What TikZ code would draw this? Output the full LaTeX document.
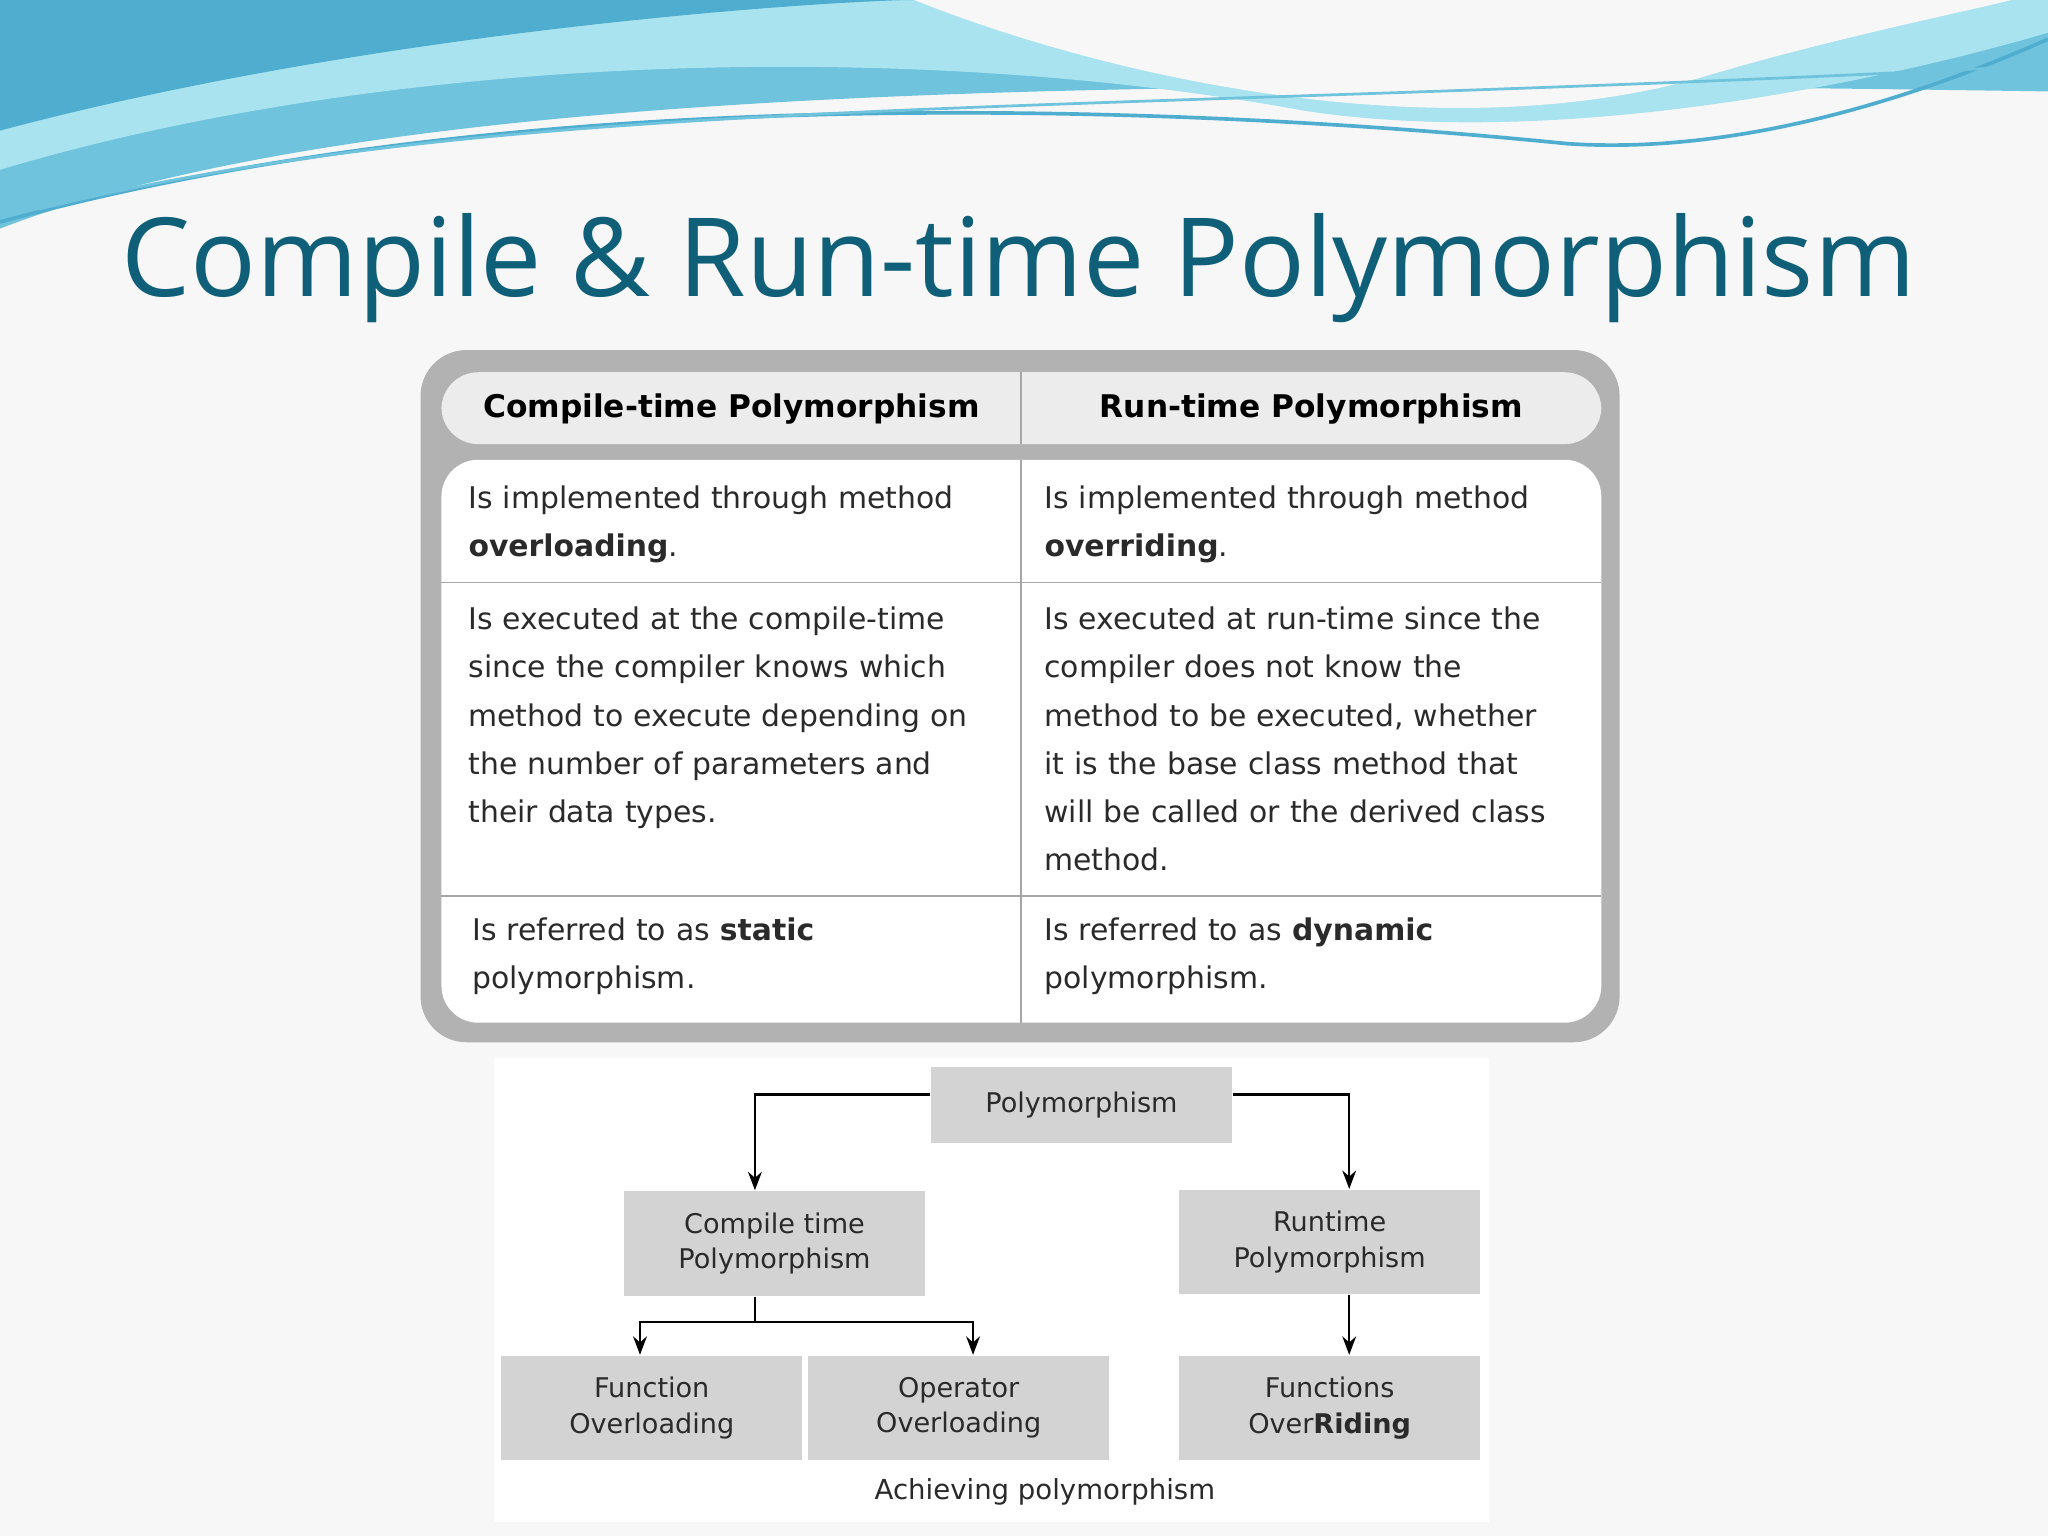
\documentclass[tikz,border=0pt]{standalone}
\usepackage{fontspec}
\setmainfont{DejaVu Sans}
\newfontfamily\titlefont{Open Sans}
\usetikzlibrary{arrows.meta}
\definecolor{titc}{HTML}{0E5F77}
\definecolor{boxg}{HTML}{D3D3D3}
\definecolor{txtg}{HTML}{2A2A2A}
\definecolor{wA}{HTML}{6FC3DC}
\definecolor{wB}{HTML}{A9E3EF}
\definecolor{wC}{HTML}{4FAED0}
\tikzset{
 cell/.style={anchor=north west,text width=4.2cm,align=left,inner sep=0pt,text=txtg,font=\fontsize{6.5pt}{10.5pt}\selectfont},
 hdr/.style={font=\bfseries\fontsize{6.8pt}{9pt}\selectfont},
 dbox/.style={fill=boxg,minimum width=2.3cm,minimum height=0.8cm,align=center,inner sep=1pt,text=txtg,font=\fontsize{5.9pt}{7.7pt}\selectfont},
 conn/.style={draw=black,line width=0.5pt,-{Stealth[length=4pt,width=3pt]}},
 plain/.style={draw=black,line width=0.5pt}
}
\begin{document}
\begin{tikzpicture}[x=0.01cm,y=-0.01cm]
\fill[white!94!gray] (0,0) rectangle (1568,1176);
\useasboundingbox (0,0) rectangle (1568,1176);
% waves
\fill[wA] (0,0) -- (0,175) .. controls (300,60) and (900,60) .. (1568,70) -- (1568,0) -- cycle;
\fill[wB] (0,0) -- (0,130) .. controls (300,40) and (700,30) .. (1000,85) .. controls (1200,115) and (1450,60) .. (1568,25) -- (1568,0) -- cycle;
\fill[wC] (0,0) -- (0,100) .. controls (300,20) and (650,0) .. (700,0) -- cycle;
\fill[white!94!gray] (700,0) .. controls (850,60) and (1100,115) .. (1300,60) .. controls (1400,30) and (1500,10) .. (1540,0) -- cycle;
\draw[wC,line width=0.8pt] (0,170) .. controls (400,60) and (900,80) .. (1200,110) .. controls (1350,120) and (1500,60) .. (1568,30);
\draw[wA,line width=0.6pt] (30,160) .. controls (400,70) and (800,90) .. (1568,50);
% title
\node[titc,font=\titlefont\fontsize{23.8pt}{28pt}\selectfont] (title) at (780,205) {Compile \& Run-time Polymorphism};
% table
\fill[gray!60,rounded corners=10] (322,268) rectangle (1240,798);
\fill[gray!15,rounded corners=8] (338,285) rectangle (1226,340);
\fill[white,rounded corners=8] (338,352) rectangle (1226,783);
\draw[gray!70] (782,285) -- (782,340);
\draw[gray!70] (782,352) -- (782,783);
\draw[gray!70] (338,446) -- (1226,446);
\draw[gray!70] (338,686) -- (1226,686);
\node[hdr] (h1) at (560,313) {Compile-time Polymorphism};
\node[hdr] (h2) at (1004,313) {Run-time Polymorphism};
\node[cell] (a1) at (358,371) {Is implemented through method\\\textbf{overloading}.};
\node[cell] (b1) at (799,371) {Is implemented through method\\\textbf{overriding}.};
\node[cell] (a2) at (358,464) {Is executed at the compile-time\\since the compiler knows which\\method to execute depending on\\the number of parameters and\\their data types.};
\node[cell] (b2) at (799,464) {Is executed at run-time since the\\compiler does not know the\\method to be executed, whether\\it is the base class method that\\will be called or the derived class\\method.};
\node[cell] (a3) at (361,702) {Is referred to as \textbf{static}\\polymorphism.};
\node[cell] (b3) at (799,702) {Is referred to as \textbf{dynamic}\\polymorphism.};
% diagram
\fill[white] (378,810) rectangle (1140,1165);
\node[dbox,minimum height=0.58cm] (p) at (828,846) {Polymorphism};
\node[dbox] (ct) at (593,952) {Compile time\\Polymorphism};
\node[dbox] (rt) at (1018,951) {Runtime\\Polymorphism};
\node[dbox] (fo) at (499,1078) {Function\\Overloading};
\node[dbox] (oo) at (734,1078) {Operator\\Overloading};
\node[dbox] (fr) at (1018,1078) {Functions\\Over\textbf{Riding}};
\coordinate (j) at (578,1012);
\draw[conn] (p.west |- 0,838) -| (ct.north -| 578,0);
\draw[conn] (p.east |- 0,838) -| (rt.north -| 1033,0);
\draw[plain] (ct.south -| 578,0) -- (j);
\draw[conn] (j) -| (fo.north -| 490,0);
\draw[conn] (j) -| (oo.north -| 745,0);
\draw[conn] (rt.south -| 1033,0) -- (fr.north -| 1033,0);
\node[text=txtg,font=\fontsize{6pt}{7pt}\selectfont] (cap) at (800,1142) {Achieving polymorphism};
\end{tikzpicture}
\end{document}
